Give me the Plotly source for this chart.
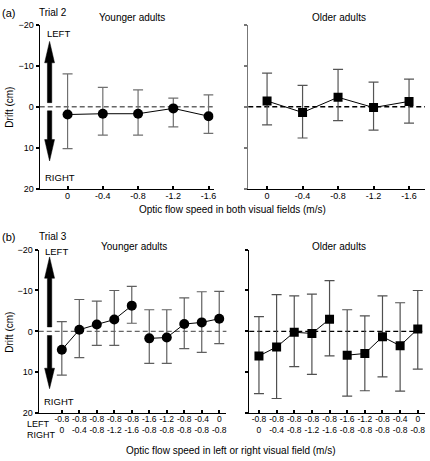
import plotly.graph_objects as go

# ---------------- data ----------------
a_speed = ["0", "-0.4", "-0.8", "-1.2", "-1.6"]
a_young_mean = [1.9, 1.7, 1.7, 0.4, 2.3]
a_young_low = [-8.0, -4.7, -4.1, -2.1, -2.9]
a_young_high = [10.2, 6.9, 6.9, 4.9, 6.5]
a_old_mean = [-1.4, 1.4, -2.3, 0.2, -1.3]
a_old_low = [-8.2, -5.2, -9.1, -6.0, -6.7]
a_old_high = [4.4, 7.6, 3.4, 5.7, 4.0]

b_left_speed = ["-0.8", "-0.8", "-0.8", "-0.8", "-0.8", "-1.6", "-1.2", "-0.8", "-0.4", "0"]
b_right_speed = ["0", "-0.4", "-0.8", "-1.2", "-1.6", "-0.8", "-0.8", "-0.8", "-0.8", "-0.8"]
b_young_mean = [4.5, -0.4, -1.7, -2.9, -6.3, 1.7, 1.5, -1.8, -2.2, -3.1]
b_young_low = [-2.4, -7.8, -7.4, -10.0, -11.0, -5.3, -5.3, -8.2, -9.7, -9.8]
b_young_high = [10.7, 6.4, 3.4, 3.4, -2.0, 7.8, 7.8, 4.2, 5.1, 3.0]
b_old_mean = [6.0, 3.8, 0.2, 0.5, -3.0, 5.8, 5.4, 1.3, 3.5, -0.6]
b_old_low = [-3.6, -9.0, -8.7, -9.1, -12.4, -5.3, -3.8, -8.7, -7.0, -10.0]
b_old_high = [15.2, 16.4, 8.6, 10.5, 6.0, 15.8, 14.5, 11.1, 14.6, 9.2]

y_ticks = [-20, -10, 0, 10, 20]

# ---------------- layout helpers ----------------
W, H = 430, 461
FONT = "Liberation Sans, Arial, sans-serif"


def xf(px):
    return px / W


def yf(py):
    return 1 - py / H


fig = go.Figure()


def add_series(xax, yax, xs, mean, low, high, symbol, size, ecol):
    fig.add_trace(go.Scatter(
        x=xs, y=mean, xaxis=xax, yaxis=yax, mode="lines+markers",
        line=dict(color="black", width=1),
        marker=dict(symbol=symbol, size=size, color="black"),
        error_y=dict(type="data", symmetric=False,
                     array=[h - m for h, m in zip(high, mean)],
                     arrayminus=[m - l for m, l in zip(mean, low)],
                     color=ecol, thickness=1.2, width=5),
        showlegend=False, hoverinfo="skip"))


na = list(range(len(a_speed)))
nb = list(range(len(b_left_speed)))

add_series("x", "y", na, a_young_mean, a_young_low, a_young_high, "circle", 10, "#707070")
add_series("x2", "y2", na, a_old_mean, a_old_low, a_old_high, "square", 9, "#555555")
for seg in (slice(0, 5), slice(5, 10)):
    add_series("x3", "y3", nb[seg], b_young_mean[seg], b_young_low[seg], b_young_high[seg],
               "circle", 10, "#606060")
    add_series("x4", "y4", nb[seg], b_old_mean[seg], b_old_low[seg], b_old_high[seg],
               "square", 9, "#505050")


def xaxis(domain, rng, n, ticktext, size, anchor, standoff, line=True, overlay=None):
    d = dict(domain=domain, range=rng, tickvals=list(range(n)), ticktext=ticktext,
             showline=line, linecolor="black", linewidth=1,
             ticks="inside" if line else "", ticklen=3, tickwidth=2, tickcolor="black",
             showgrid=False, zeroline=False, ticklabelstandoff=standoff,
             tickfont=dict(family=FONT, size=size, color="black"), anchor=anchor,
             fixedrange=True)
    if overlay:
        d["overlaying"] = overlay
    return d


def yaxis(domain, anchor, labels, col="black"):
    return dict(domain=domain, range=[20, -20], tickvals=y_ticks, showticklabels=labels,
                showline=True, linecolor=col, linewidth=1.2, ticks="outside", ticklen=3,
                tickwidth=1.5, tickcolor=col, showgrid=False, zeroline=False,
                tickfont=dict(family=FONT, size=9, color="black"), anchor=anchor,
                fixedrange=True)


ya_dom = [yf(188), yf(20)]
yb_dom = [yf(417.3), yf(250)]
xb_dom = [xf(39), xf(228)]
xb2_dom = [xf(251), xf(428)]
xb_rng = [-1.32, 9.41]
xb2_rng = [-0.55, 9.41]

fig.update_layout(
    width=W, height=H, margin=dict(l=0, r=0, t=0, b=0),
    paper_bgcolor="white", plot_bgcolor="rgba(0,0,0,0)",
    font=dict(family=FONT, size=10, color="black"),
    xaxis=xaxis([xf(40), xf(215)], [-0.79, 4.14], 5, a_speed, 9, "y", -2),
    yaxis=yaxis(ya_dom, "x", True),
    xaxis2=xaxis([xf(250), xf(428)], [-0.53, 4.45], 5, a_speed, 9, "y2", -2),
    yaxis2=yaxis(ya_dom, "x2", False, "#777777"),
    xaxis3=xaxis(xb_dom, xb_rng, 10, b_left_speed, 8.5, "y3", -2),
    yaxis3=yaxis(yb_dom, "x3", True),
    xaxis4=xaxis(xb2_dom, xb2_rng, 10, b_left_speed, 8.5, "y4", -2),
    yaxis4=yaxis(yb_dom, "x4", False),
    # second label rows (RIGHT field speeds)
    xaxis5=xaxis(xb_dom, xb_rng, 10, b_right_speed, 8.5, "y3", 10, line=False, overlay="x3"),
    xaxis6=xaxis(xb2_dom, xb2_rng, 10, b_right_speed, 8.5, "y4", 10, line=False, overlay="x4"),
)
# invisible traces so the overlay axes render
fig.add_trace(go.Scatter(x=[0], y=[0], xaxis="x5", yaxis="y3", mode="markers",
                         marker=dict(opacity=0), showlegend=False, hoverinfo="skip"))
fig.add_trace(go.Scatter(x=[0], y=[0], xaxis="x6", yaxis="y4", mode="markers",
                         marker=dict(opacity=0), showlegend=False, hoverinfo="skip"))

# dashed zero lines
for xr, yr, col in (("x", "y", "#666666"), ("x2", "y2", "black"),
                    ("x3", "y3", "#666666"), ("x4", "y4", "black")):
    fig.add_shape(type="line", xref=f"{xr} domain", yref=yr, x0=0, x1=1, y0=0, y1=0,
                  line=dict(color=col, width=1.3, dash="5px,3px"), layer="below")


def arrow(xr, yr, xc, hw, hh, base, head_base, tip):
    path = (f"M{xc - hw},{base} L{xc - hw},{head_base} L{xc - hh},{head_base} "
            f"L{xc},{tip} L{xc + hh},{head_base} L{xc + hw},{head_base} L{xc + hw},{base} Z")
    fig.add_shape(type="path", path=path, xref=xr, yref=yr,
                  fillcolor="black", line=dict(color="black", width=0.5))


arrow("x", "y", -0.51, 0.062, 0.14, -1.0, -10.7, -15.9)
arrow("x", "y", -0.51, 0.062, 0.14, 1.0, 8.0, 13.2)
arrow("x3", "y3", -0.70, 0.125, 0.284, -1.1, -13.0, -18.2)
arrow("x3", "y3", -0.70, 0.125, 0.284, 1.0, 9.0, 14.0)


def text(px, py, s, size=10, xanchor="center", angle=0):
    fig.add_annotation(x=xf(px), y=yf(py), xref="paper", yref="paper", text=s,
                       showarrow=False, xanchor=xanchor, yanchor="middle", textangle=angle,
                       font=dict(family=FONT, size=size, color="black"))


# panel (a)
text(0, 8, "(a)", 11, "left")
text(37, 8, "Trial 2", 10, "left")
text(133, 13, "Younger adults", 10)
text(341, 13, "Older adults", 10)
text(45, 29, "LEFT", 9.5, "left")
text(43, 176, "RIGHT", 9.5, "left")
text(10, 104, "Drift (cm)", 10, angle=-90)
text(234, 209, "Optic flow speed in both visual fields (m/s)", 10)

# panel (b)
text(0, 237, "(b)", 11, "left")
text(37, 237, "Trial 3", 10, "left")
text(135, 247, "Younger adults", 10)
text(341, 247, "Older adults", 10)
text(43, 252, "LEFT", 9.5, "left")
text(42, 405, "RIGHT", 9.5, "left")
text(10, 334, "Drift (cm)", 10, angle=-90)
text(25, 428, "LEFT", 9, "left")
text(25, 440, "RIGHT", 9, "left")
text(233, 455, "Optic flow speed in left or right visual field (m/s)", 10)

fig.write_html("out.html", config={"displayModeBar": False},
               post_script="document.body.style.margin='0';document.body.style.padding='0';")
